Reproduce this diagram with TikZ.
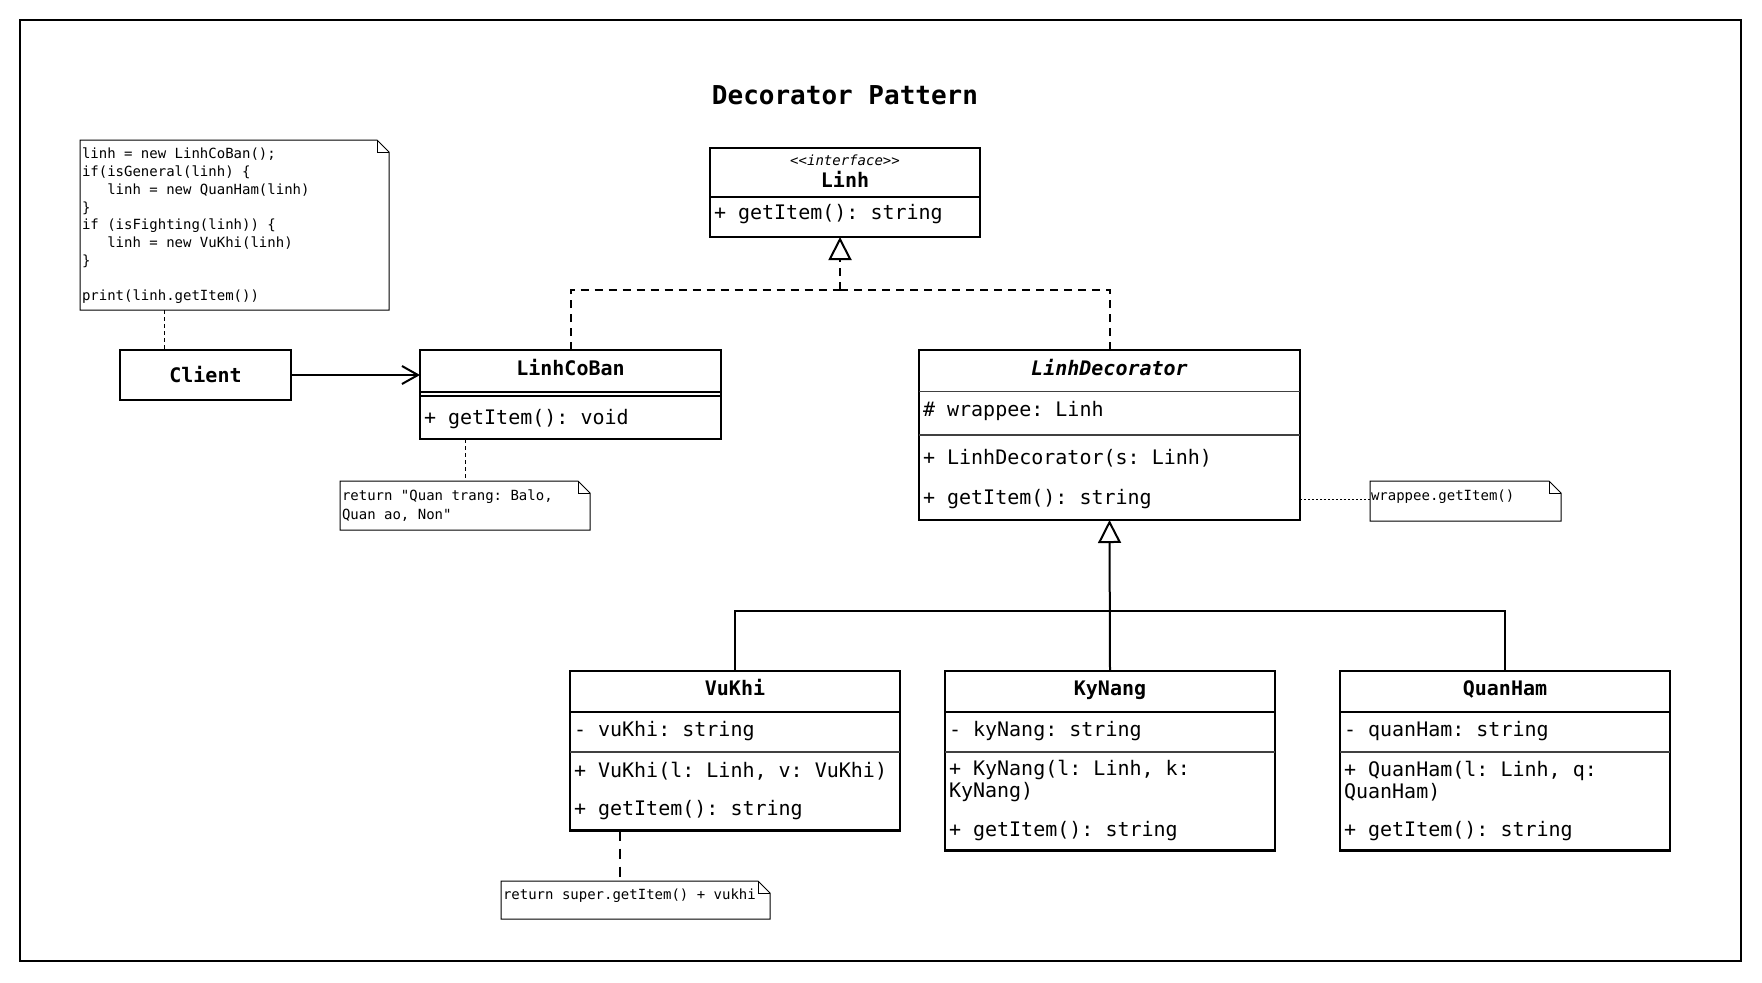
\documentclass[tikz,border=0pt]{standalone}
\usepackage{fontspec}
\setmonofont{DejaVu Sans Mono}
\renewcommand\familydefault{\ttdefault}
\usetikzlibrary{arrows.meta,fit}
\newcommand\umlbox[6]{\node[fit={(#2,#3)(#4,#5)}, draw, #6] (#1) {};}
\newcommand\umlnote[5]{%
  \node[fit={(#2,#3)(#4,#5)}] (#1) {};
  \draw[notestyle] (#1.north west) -- ([xshift=-6pt]#1.north east) -- ([yshift=-6pt]#1.north east) -- (#1.south east) -- (#1.south west) -- cycle;
  \draw[notestyle] ([xshift=-6pt]#1.north east) -- ([xshift=-6pt,yshift=-6pt]#1.north east) -- ([yshift=-6pt]#1.north east);}
\begin{document}
\frenchspacing
\begin{tikzpicture}[x=0.5pt,y=-0.5pt,
  every node/.style={inner sep=0pt, outer sep=0pt},
  thickbox/.style={line width=1.2pt},
  thinbox/.style={line width=0.7pt},
  notestyle/.style={line width=0.5pt},
  nm/.style={font=\fontsize{10pt}{12pt}\selectfont\bfseries, text height=7.5pt, text depth=2.5pt},
  mb/.style={font=\fontsize{10pt}{10.7pt}\selectfont, anchor=west, align=left},
  nt/.style={font=\fontsize{7pt}{8.875pt}\selectfont, anchor=west, align=left},
  thickdiv/.style={line width=1pt},
  thindiv/.style={line width=0.6pt, black!75},
  assoc/.style={line width=1pt, -{Straight Barb[length=8pt, width=9pt, line width=1pt]}},
  real/.style={line width=1pt, dash pattern=on 4pt off 3pt},
  gen/.style={line width=1pt},
  tri/.style={-{Triangle[open, length=11.5pt, width=11.5pt, line width=1pt, fill=white]}},
  notelink/.style={line width=0.5pt, dash pattern=on 2pt off 1.5pt},
  notelinkb/.style={line width=0.6pt, dash pattern=on 5pt off 4pt},
  dotlink/.style={line width=0.5pt, dash pattern=on 1pt off 1pt}
]
\useasboundingbox (0,0) rectangle (1762,982);
\draw[line width=0.7pt] (20,20) rectangle (1741,961);

% title
\node[font=\fontsize{13pt}{15pt}\selectfont\bfseries] (title) at (845,95) {Decorator Pattern};

% Linh interface
\umlbox{linh}{710}{148}{980}{237}{thickbox}
\draw[thickdiv] (linh.west |- 0,197) -- (linh.east |- 0,197);
\node[font=\fontsize{7pt}{8pt}\selectfont\itshape] (linh-st) at (845,160) {<<interface>>};
\node[nm] (linh-nm) at (845,182) {Linh};
\node[mb] (linh-op) at (714,214) {+ getItem(): string};

% Client
\umlbox{client}{120}{350}{291}{400}{thickbox}
\node[nm] (client-nm) at (205.5,377) {Client};

% LinhCoBan
\umlbox{lcb}{420}{350}{721}{439}{thickbox}
\draw[thickdiv] (lcb.west |- 0,391.5) -- (lcb.east |- 0,391.5);
\draw[thickdiv] (lcb.west |- 0,395.5) -- (lcb.east |- 0,395.5);
\node[nm] (lcb-nm) at (570.5,370) {LinhCoBan};
\node[mb] (lcb-op) at (424,419) {+ getItem(): void};

% LinhDecorator
\umlbox{ldec}{919}{350}{1300}{520}{thinbox}
\draw[thindiv] (ldec.west |- 0,391.5) -- (ldec.east |- 0,391.5);
\draw[thindiv] (ldec.west |- 0,435) -- (ldec.east |- 0,435);
\node[nm, font=\fontsize{10pt}{12pt}\selectfont\bfseries\itshape] (ldec-nm) at (1109.5,370) {LinhDecorator};
\node[mb] (ldec-at) at (923,411) {\# wrappee: Linh};
\node[mb] (ldec-op1) at (923,458) {+ LinhDecorator(s: Linh)};
\node[mb] (ldec-op2) at (923,499) {+ getItem(): string};

% VuKhi
\umlbox{vukhi}{570}{671}{900}{830.5}{thickbox}
\draw[thickdiv] (vukhi.west |- 0,711.5) -- (vukhi.east |- 0,711.5);
\draw[thindiv] (vukhi.west |- 0,752) -- (vukhi.east |- 0,752);
\node[nm] (vukhi-nm) at (735,690) {VuKhi};
\node[mb] (vukhi-at) at (574,731) {- vuKhi: string};
\node[mb] (vukhi-op1) at (574,771) {+ VuKhi(l: Linh, v: VuKhi)};
\node[mb] (vukhi-op2) at (574,810) {+ getItem(): string};

% KyNang
\umlbox{kn}{945}{671}{1275}{850.5}{thickbox}
\draw[thickdiv] (kn.west |- 0,711.5) -- (kn.east |- 0,711.5);
\draw[thindiv] (kn.west |- 0,752) -- (kn.east |- 0,752);
\node[nm] (kn-nm) at (1110,690) {KyNang};
\node[mb] (kn-at) at (949,731) {- kyNang: string};
\node[mb] (kn-op1) at (949,781) {+ KyNang(l: Linh, k:\\KyNang)};
\node[mb] (kn-op2) at (949,831) {+ getItem(): string};

% QuanHam
\umlbox{qh}{1340}{671}{1670}{850.5}{thickbox}
\draw[thickdiv] (qh.west |- 0,711.5) -- (qh.east |- 0,711.5);
\draw[thindiv] (qh.west |- 0,752) -- (qh.east |- 0,752);
\node[nm] (qh-nm) at (1505,690) {QuanHam};
\node[mb] (qh-at) at (1344,731) {- quanHam: string};
\node[mb] (qh-op1) at (1344,781) {+ QuanHam(l: Linh, q:\\QuanHam)};
\node[mb] (qh-op2) at (1344,831) {+ getItem(): string};

% notes
\umlnote{note1}{80}{140}{389}{310}
\node[nt] (note1-t) at (82,226) {linh = new LinhCoBan();\\if(isGeneral(linh) \{\\\phantom{000}linh = new QuanHam(linh)\\\}\\if (isFighting(linh)) \{\\\phantom{000}linh = new VuKhi(linh)\\\}\\\mbox{}\\print(linh.getItem())};

\umlnote{note2}{340}{481}{590}{530}
\node[nt, font=\fontsize{7pt}{9.5pt}\selectfont] (note2-t) at (342,505.5) {return "Quan trang: Balo,\\Quan ao, Non"};

\umlnote{note3}{1370}{481}{1561}{521}
\node[nt] (note3-t) at (1371,497) {wrappee.getItem()};

\umlnote{note4}{501}{881}{770}{919}
\node[nt] (note4-t) at (503,896) {return super.getItem() + vukhi};

% connectors
\draw[notelink] (note1.south -| 164,0) -- (client.north -| 164,0);
\draw[assoc] (client.east) -- (client.east -| lcb.west);

\coordinate (rj) at (840,290);
\draw[real] (lcb.north) |- (rj);
\draw[real] (ldec.north) |- (rj);
\draw[real, tri] (rj) -- (rj |- linh.south);

\coordinate (gj) at (1110,611);
\draw[gen] (vukhi.north) |- (qh.north |- gj) -- (qh.north);
\draw[gen, tri] (kn.north) -- (ldec.south);

\draw[notelink] (lcb.south -| 465,0) -- (note2.north -| 465,0);
\draw[dotlink] (ldec.east |- 0,499) -- (note3.west |- 0,499);
\draw[notelinkb] (vukhi.south -| 620,0) -- (note4.north -| 620,0);
\end{tikzpicture}
\end{document}
